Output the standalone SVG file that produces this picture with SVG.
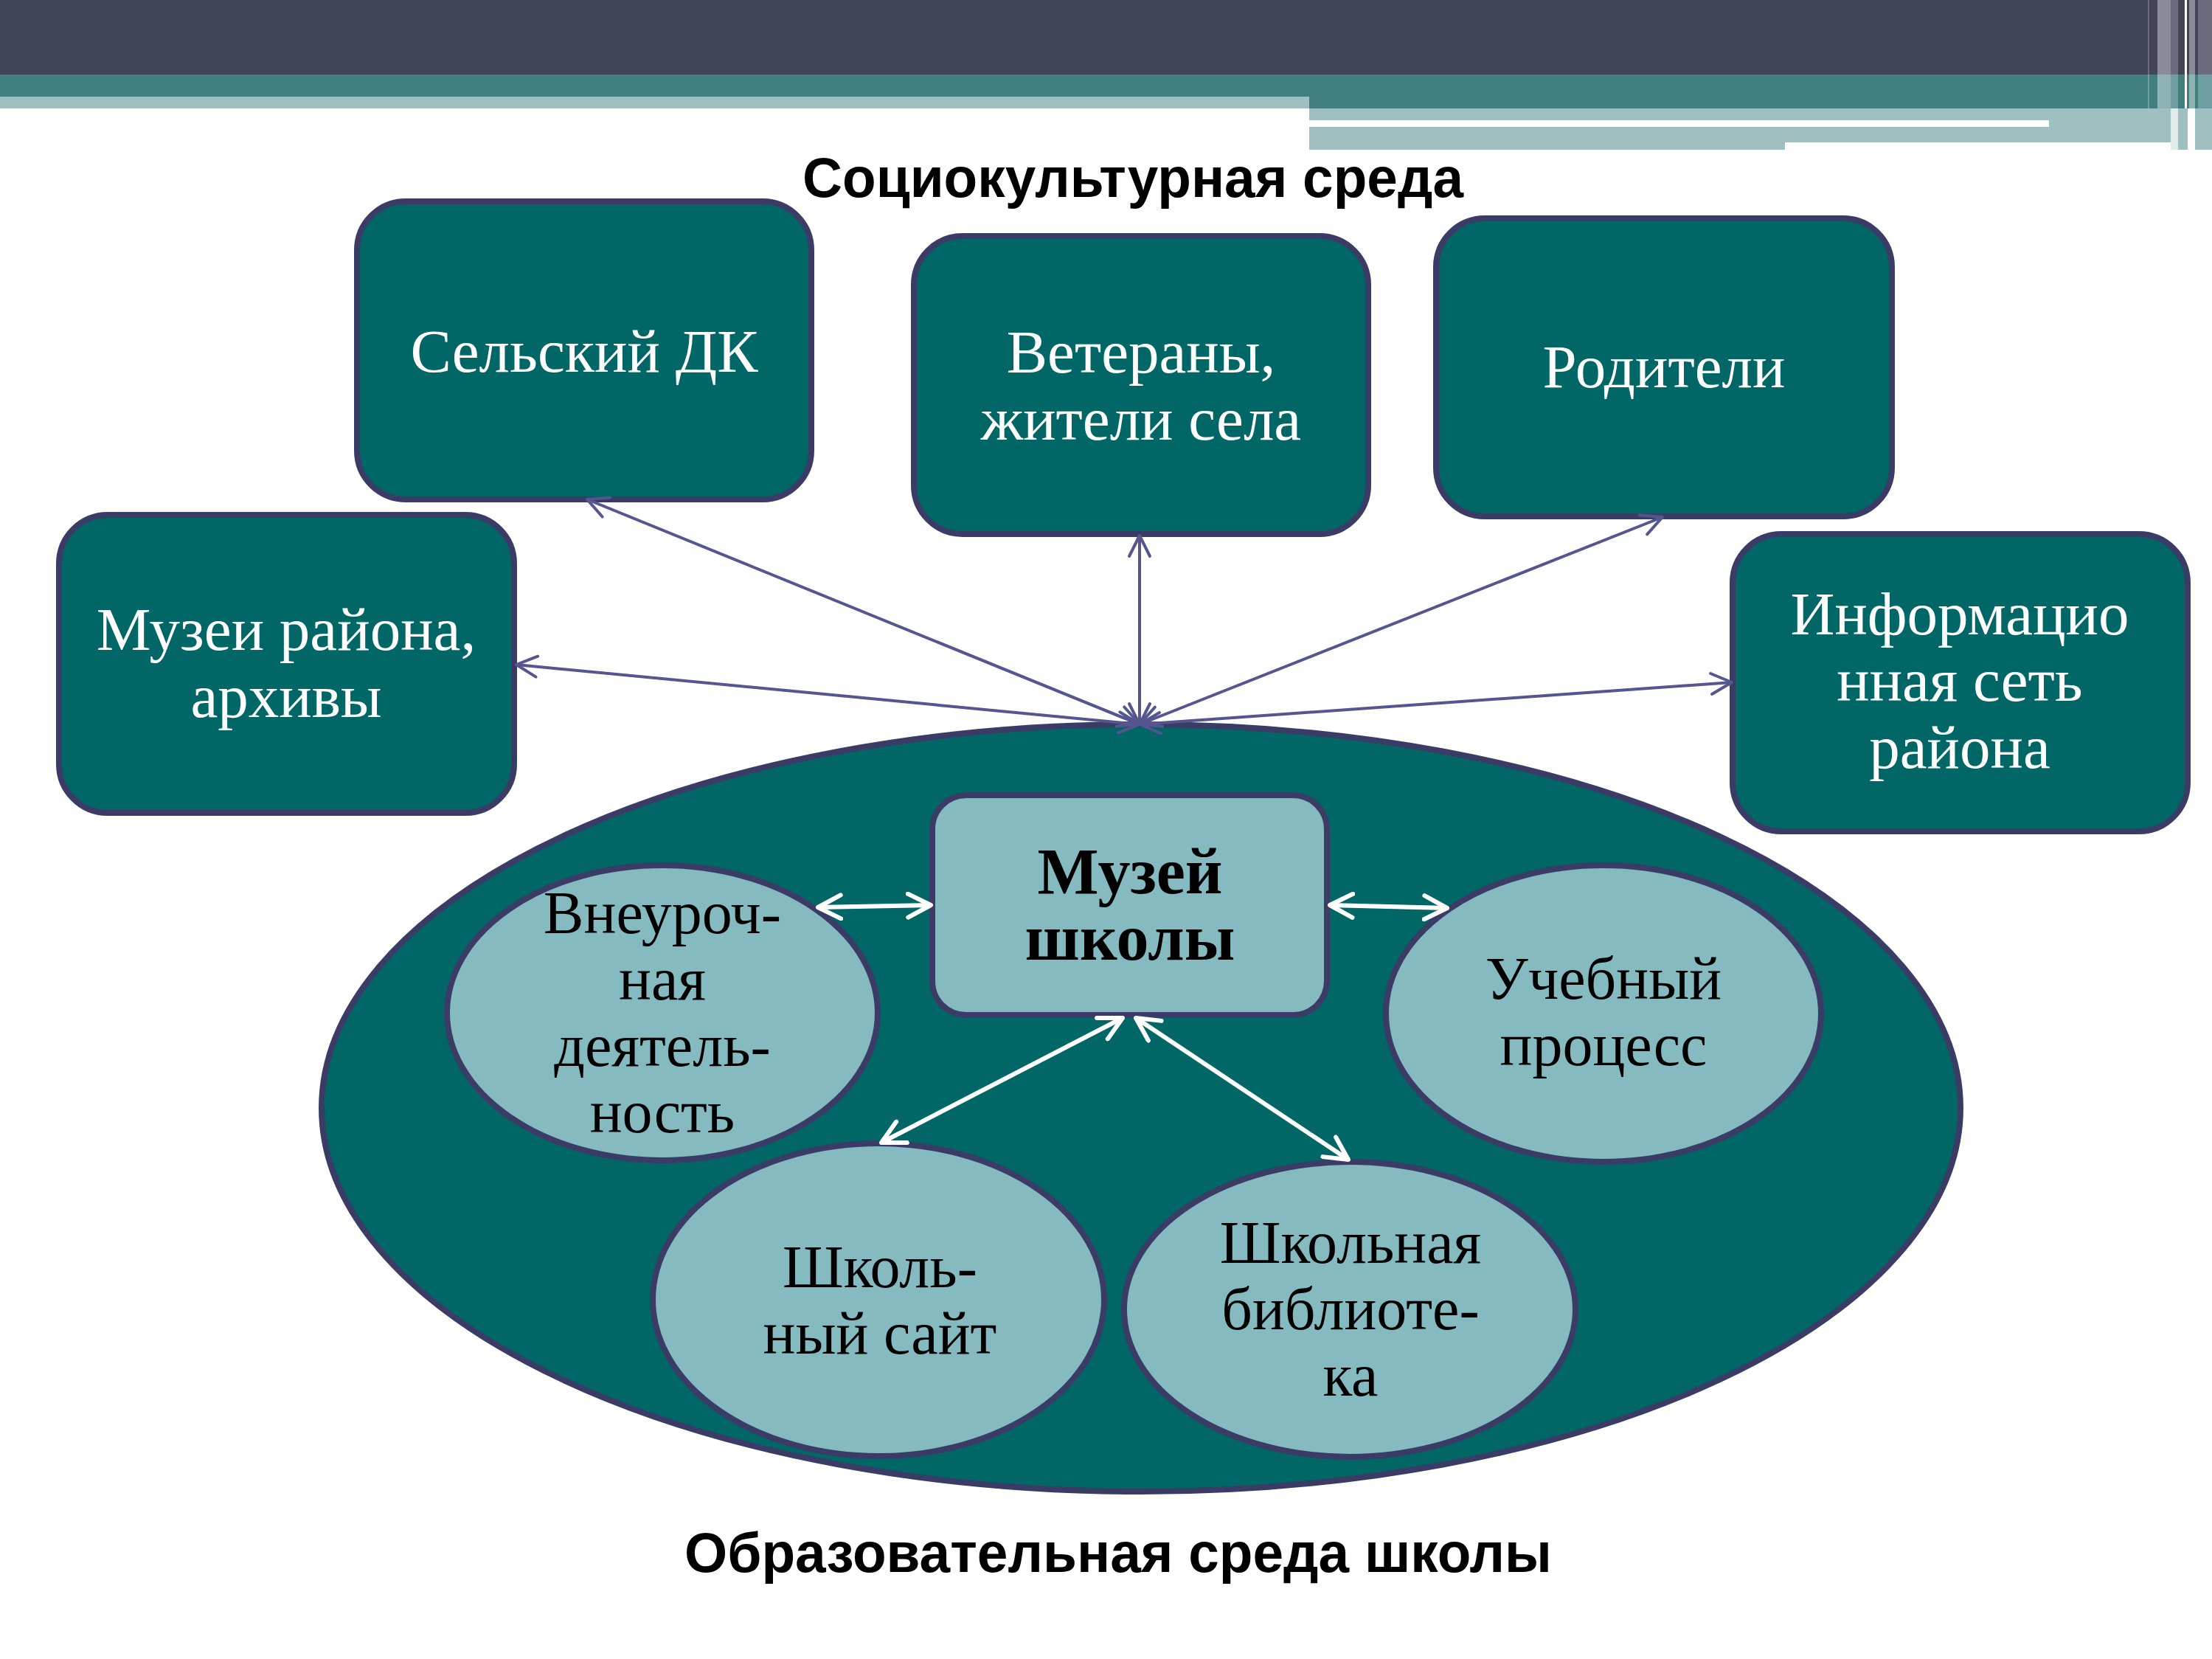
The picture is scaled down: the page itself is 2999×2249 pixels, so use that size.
<svg xmlns="http://www.w3.org/2000/svg" width="2999" height="2249" viewBox="0 0 2999 2249">
<style>
.box{fill:#006666;stroke:#3b3c66;stroke-width:8}
.inner{fill:#85bbc0;stroke:#3b3c66;stroke-width:8}
.wt{font-family:"Liberation Serif","Times New Roman",serif;font-size:83px;fill:#ffffff;text-anchor:middle}
.bt{font-family:"Liberation Serif","Times New Roman",serif;font-size:82px;fill:#000000;text-anchor:middle}
.bold{font-weight:bold;font-size:88px}
.title{font-family:"Liberation Sans",Arial,sans-serif;font-weight:bold;font-size:76px;fill:#000000;text-anchor:middle}
.nav{stroke:#55558f;stroke-width:4;fill:none;marker-start:url(#navHead);marker-end:url(#navHead)}
.wht{stroke:#ffffff;stroke-width:6;fill:none;marker-start:url(#whtHead);marker-end:url(#whtHead)}
</style>
<defs>
<marker id="navHead" viewBox="0 0 34 34" refX="31" refY="17" markerWidth="34" markerHeight="34" markerUnits="userSpaceOnUse" orient="auto-start-reverse">
<path d="M3,3 L31,17 L3,31" fill="none" stroke="#55558f" stroke-width="4" stroke-linecap="round" stroke-linejoin="round"/>
</marker>
<marker id="whtHead" viewBox="0 0 38 38" refX="34" refY="19" markerWidth="38" markerHeight="38" markerUnits="userSpaceOnUse" orient="auto-start-reverse">
<path d="M3,3 L34,19 L3,35" fill="none" stroke="#ffffff" stroke-width="6" stroke-linecap="round" stroke-linejoin="round"/>
</marker>
</defs>
<rect x="0" y="0" width="2999" height="2249" fill="#ffffff"/>
<g id="header">
<rect x="0" y="0" width="2912" height="101" fill="#424457"/>
<rect x="0" y="101" width="2912" height="30" fill="#417e80"/>
<rect x="1775" y="131" width="1137" height="16" fill="#417e80"/>
<rect x="0" y="131" width="1775" height="16" fill="#a0bfc0"/>
<rect x="1775" y="147" width="1170" height="46" fill="#a0bfc0"/>
<rect x="1775" y="163" width="1003" height="9" fill="#ffffff"/>
<rect x="1775" y="193" width="645" height="10" fill="#a0bfc0"/>
<rect x="2912" y="0" width="87" height="101" fill="#6a6c7c"/>
<rect x="2914" y="0" width="11" height="101" fill="#424457"/>
<rect x="2925" y="0" width="18" height="101" fill="#8a8c99"/>
<rect x="2953" y="0" width="9" height="101" fill="#424457"/>
<rect x="2962" y="0" width="3" height="101" fill="#ffffff"/>
<rect x="2965" y="0" width="3" height="101" fill="#424457"/>
<rect x="2968" y="0" width="8" height="101" fill="#8a8c99"/>
<rect x="2976" y="0" width="4" height="101" fill="#424457"/>
<rect x="2912" y="101" width="87" height="46" fill="#6f9ea0"/>
<rect x="2914" y="101" width="11" height="46" fill="#417e80"/>
<rect x="2925" y="101" width="18" height="46" fill="#8fb3b5"/>
<rect x="2953" y="101" width="9" height="46" fill="#417e80"/>
<rect x="2962" y="101" width="3" height="46" fill="#ffffff"/>
<rect x="2965" y="101" width="3" height="46" fill="#417e80"/>
<rect x="2968" y="101" width="8" height="46" fill="#8fb3b5"/>
<rect x="2976" y="101" width="4" height="46" fill="#417e80"/>
<rect x="2943" y="147" width="10" height="56" fill="#e0ebeb"/>
<rect x="2953" y="147" width="13" height="56" fill="#a0bfc0"/>
<rect x="2976" y="147" width="23" height="56" fill="#a0bfc0"/>
</g>
<text class="title" x="1536" y="267" textLength="896" lengthAdjust="spacingAndGlyphs">Социокультурная среда</text>
<g id="node-school-env">
<ellipse cx="1547" cy="1502" rx="1111" ry="520" class="box"/>
<text class="title" x="1516" y="2131" textLength="1176" lengthAdjust="spacingAndGlyphs">Образовательная среда школы</text>
</g>
<g id="node-dk">
<rect x="484" y="273" width="616" height="404" rx="66" ry="66" class="box"/>
<text class="wt" x="792" y="504">Сельский ДК</text>
</g>
<g id="node-veterans">
<rect x="1239" y="320" width="616" height="404" rx="66" ry="66" class="box"/>
<text class="wt" x="1547" y="505">Ветераны,</text>
<text class="wt" x="1547" y="596">жители села</text>
</g>
<g id="node-parents">
<rect x="1947" y="296" width="618" height="404" rx="66" ry="66" class="box"/>
<text class="wt" x="2256" y="525">Родители</text>
</g>
<g id="node-museums">
<rect x="80" y="698" width="617" height="404" rx="66" ry="66" class="box"/>
<text class="wt" x="388" y="881">Музеи района,</text>
<text class="wt" x="388" y="972">архивы</text>
</g>
<g id="node-info">
<rect x="2349" y="724" width="617" height="403" rx="66" ry="66" class="box"/>
<text class="wt" x="2657" y="860">Информацио</text>
<text class="wt" x="2657" y="950">нная сеть</text>
<text class="wt" x="2657" y="1041">района</text>
</g>
<g id="node-school-museum">
<rect x="1264" y="1078" width="535" height="298" rx="46" ry="46" class="inner"/>
<text class="bt bold" x="1532" y="1211">Музей</text>
<text class="bt bold" x="1532" y="1301">школы</text>
</g>
<g id="node-extracurricular">
<ellipse cx="898" cy="1373" rx="292" ry="200" class="inner"/>
<text class="bt" x="898" y="1265">Внеуроч-</text>
<text class="bt" x="898" y="1355">ная</text>
<text class="bt" x="898" y="1445">деятель-</text>
<text class="bt" x="898" y="1535">ность</text>
</g>
<g id="node-study">
<ellipse cx="2174" cy="1374" rx="295" ry="201" class="inner"/>
<text class="bt" x="2174" y="1354">Учебный</text>
<text class="bt" x="2174" y="1444">процесс</text>
</g>
<g id="node-site">
<ellipse cx="1191" cy="1762" rx="306" ry="212" class="inner"/>
<text class="bt" x="1193" y="1745">Школь-</text>
<text class="bt" x="1193" y="1835">ный сайт</text>
</g>
<g id="node-library">
<ellipse cx="1830" cy="1775" rx="306" ry="200" class="inner"/>
<text class="bt" x="1831" y="1712">Школьная</text>
<text class="bt" x="1831" y="1802">библиоте-</text>
<text class="bt" x="1831" y="1892">ка</text>
</g>
<g id="connectors">
<line class="nav" x1="1545" y1="982" x2="796" y2="677"/>
<line class="nav" x1="1545" y1="982" x2="1545" y2="726"/>
<line class="nav" x1="1545" y1="982" x2="2254" y2="701"/>
<line class="nav" x1="1545" y1="982" x2="700" y2="901"/>
<line class="nav" x1="1545" y1="982" x2="2348" y2="925"/>
<line class="wht" x1="1109" y1="1230" x2="1262" y2="1227"/>
<line class="wht" x1="1803" y1="1227" x2="1962" y2="1231"/>
<line class="wht" x1="1522" y1="1380" x2="1195" y2="1549"/>
<line class="wht" x1="1540" y1="1380" x2="1828" y2="1572"/>
</g>
</svg>
